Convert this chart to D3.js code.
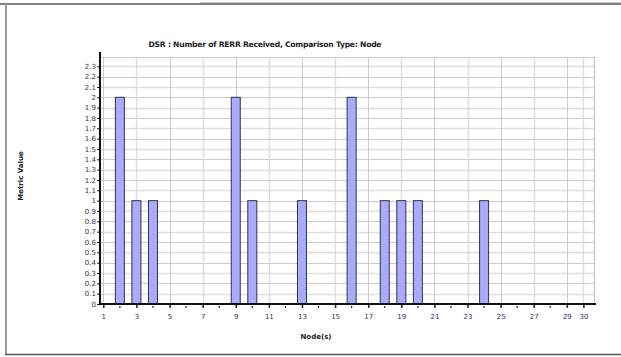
<!DOCTYPE html>
<html>
<head>
<meta charset="utf-8">
<script src="https://cdn.jsdelivr.net/npm/d3@7"></script>
<style>
  html, body { margin: 0; padding: 0; background: #fff; }
  svg { display: block; }
  text { font-family: "DejaVu Sans", Verdana, sans-serif; }
</style>
</head>
<body>
<svg id="chart" width="621" height="357"></svg>
<script>
// ---- data ----
const nodes  = [2, 3, 4, 9, 10, 13, 16, 18, 19, 20, 24];
const values = [2, 1, 1, 2, 1, 1, 2, 1, 1, 1, 1];
const xTickLabels = [1, 3, 5, 7, 9, 11, 13, 15, 17, 19, 21, 23, 25, 27, 29, 30];
const xMinorTicks = [2, 4, 6, 8, 10, 12, 14, 16, 18, 20, 22, 24, 26, 28];
const yTickValues = [0, 0.1, 0.2, 0.3, 0.4, 0.5, 0.6, 0.7, 0.8, 0.9, 1, 1.1, 1.2, 1.3, 1.4, 1.5, 1.6, 1.7, 1.8, 1.9, 2, 2.1, 2.2, 2.3];
const title = "DSR :  Number of RERR Received, Comparison Type: Node";
const xTitle = "Node(s)";
const yTitle = "Metric Value";

const svg = d3.select("#chart");

// frame
svg.append("line").attr("x1", 200).attr("x2", 621).attr("y1", 2.5).attr("y2", 2.5).attr("stroke", "#c8c8c8").attr("stroke-width", 1);
svg.append("line").attr("x1", 0).attr("x2", 621).attr("y1", 4).attr("y2", 4).attr("stroke", "#555").attr("stroke-width", 1.5);
svg.append("line").attr("x1", 6).attr("x2", 6).attr("y1", 4).attr("y2", 355).attr("stroke", "#999").attr("stroke-width", 2);
svg.append("line").attr("x1", 5).attr("x2", 621).attr("y1", 354.5).attr("y2", 354.5).attr("stroke", "#555").attr("stroke-width", 1.5);

const plot = { left: 100, right: 595, top: 57, bottom: 304 };

const x = d3.scaleLinear().domain([0.8, 30.7]).range([plot.left, plot.right]);
const y = d3.scaleLinear().domain([0, 2.39]).range([plot.bottom, plot.top]);

const g = svg.append("g");

// horizontal grid
g.selectAll(".hg").data(yTickValues.filter(d => d > 0)).enter().append("line")
  .attr("x1", plot.left).attr("x2", plot.right)
  .attr("y1", d => Math.round(y(d)) + 0.5).attr("y2", d => Math.round(y(d)) + 0.5)
  .attr("stroke", (d, i) => i % 2 ? "#cccccc" : "#dedede").attr("stroke-width", (d, i) => i % 2 ? 1 : 1.5);
// vertical grid
g.selectAll(".vg").data(xTickLabels).enter().append("line")
  .attr("y1", plot.top).attr("y2", plot.bottom)
  .attr("x1", d => Math.round(x(d)) + 0.5).attr("x2", d => Math.round(x(d)) + 0.5)
  .attr("stroke", (d, i) => i % 2 ? "#dedede" : "#cccccc").attr("stroke-width", (d, i) => i % 2 ? 1.5 : 1);
// top / right plot border
g.append("line").attr("x1", plot.left).attr("x2", plot.right).attr("y1", plot.top + 0.5).attr("y2", plot.top + 0.5).attr("stroke", "#c8c8c8");
g.append("line").attr("x1", plot.right - 0.5).attr("x2", plot.right - 0.5).attr("y1", plot.top).attr("y2", plot.bottom).attr("stroke", "#c0c0c0");

// bars
const bw = 9;
g.selectAll(".bar").data(nodes).enter().append("rect")
  .attr("x", d => x(d) - bw / 2)
  .attr("y", (d, i) => y(values[i]))
  .attr("width", bw)
  .attr("height", (d, i) => y(0) - y(values[i]))
  .attr("fill", "#aaaaff")
  .attr("stroke", "#333344")
  .attr("stroke-width", 1);

// y axis
const yAxis = d3.axisLeft(y).tickValues(yTickValues).tickSize(3).tickPadding(1)
  .tickFormat(d => d3.format("~g")(+d.toFixed(1)));
const ya = svg.append("g").attr("transform", `translate(${plot.left},0)`).call(yAxis);
ya.select(".domain").remove();
ya.selectAll(".tick line").attr("stroke", "#222");
ya.selectAll(".tick text").attr("font-size", 7).attr("fill", "#333355").attr("font-family", "DejaVu Sans, Verdana, sans-serif");
svg.append("line").attr("x1", plot.left).attr("x2", plot.left).attr("y1", plot.top - 5).attr("y2", plot.bottom + 1)
  .attr("stroke", "#111").attr("stroke-width", 2);

// x axis
const xAxis = d3.axisBottom(x).tickValues(xTickLabels).tickSize(4).tickPadding(6).tickFormat(d3.format("d"));
const xa = svg.append("g").attr("transform", `translate(0,${plot.bottom})`).call(xAxis);
xa.select(".domain").remove();
xa.selectAll(".tick line").attr("stroke", "#222").attr("stroke-width", 1.5);
xa.selectAll(".tick text").attr("font-size", 7).attr("fill", "#333355").attr("font-family", "DejaVu Sans, Verdana, sans-serif");
svg.append("g").selectAll("line").data(xMinorTicks).enter().append("line")
  .attr("x1", d => x(d)).attr("x2", d => x(d)).attr("y1", plot.bottom + 2).attr("y2", plot.bottom + 4)
  .attr("stroke", "#222").attr("stroke-width", 1.2);
svg.append("line").attr("x1", plot.left - 1).attr("x2", plot.right + 1).attr("y1", plot.bottom).attr("y2", plot.bottom)
  .attr("stroke", "#111").attr("stroke-width", 2);

// titles
svg.append("text").attr("x", 265).attr("y", 47).attr("text-anchor", "middle")
  .attr("font-size", 7.6).attr("font-weight", "bold").attr("fill", "#222")
  .attr("textLength", 233).attr("lengthAdjust", "spacing")
  .text(title);
svg.append("text").attr("x", 316).attr("y", 339).attr("text-anchor", "middle")
  .attr("font-size", 7).attr("font-weight", "bold").attr("fill", "#222").text(xTitle);
svg.append("text").attr("transform", "translate(23,176) rotate(-90)").attr("text-anchor", "middle")
  .attr("font-size", 7).attr("font-weight", "bold").attr("fill", "#222").text(yTitle);
</script>
</body>
</html>
